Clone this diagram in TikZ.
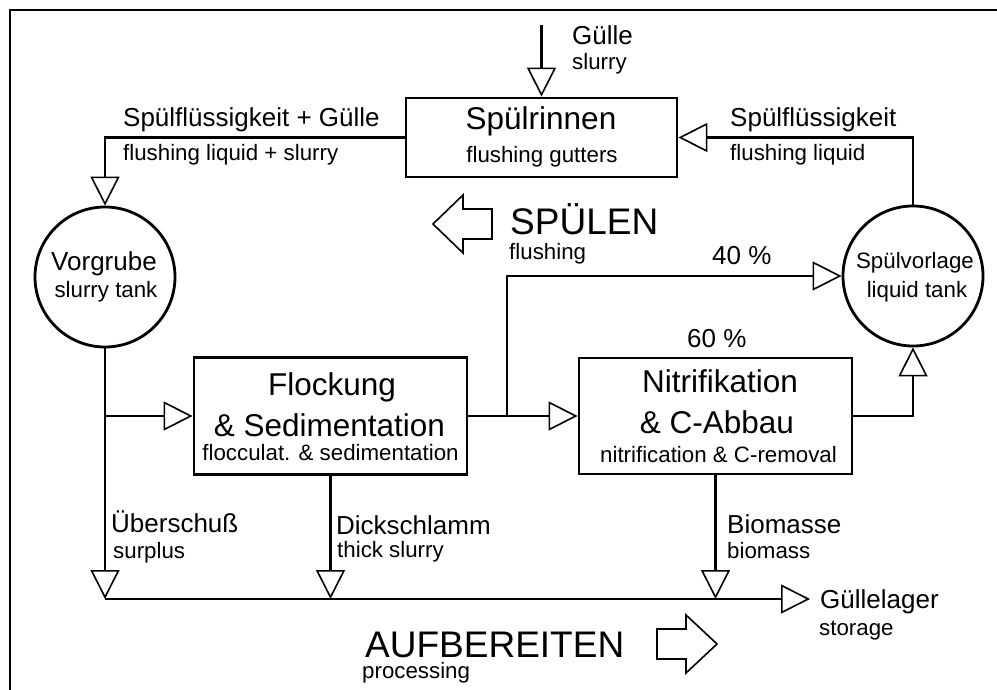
\documentclass[tikz,border=0pt]{standalone}
\usepackage{fontspec}
\setmainfont{Liberation Sans}
\usetikzlibrary{arrows.meta}
\newcommand{\deu}{\fontsize{26}{28}\selectfont}
\newcommand{\eng}{\fontsize{22.3}{25}\selectfont}
\newcommand{\ttl}{\fontsize{31.5}{34}\selectfont}
\newcommand{\hugetxt}{\fontsize{37}{40}\selectfont}
\begin{document}
\begin{tikzpicture}[x=1pt,y=-1pt,
  box/.style={draw,line width=2.8pt,inner sep=0pt},
  tank/.style={draw,circle,line width=2.8pt,minimum size=140pt,inner sep=0pt},
  flow/.style={line width=2.8pt,-{Triangle[open,length=29pt,width=29pt,line width=1.6pt]}},
  txt/.style={inner sep=0pt,anchor=base west},
  ctxt/.style={inner sep=0pt,anchor=base},
  blockarrow/.style={draw,line width=1.6pt,line join=miter}]
  \useasboundingbox (0,0) rectangle (997,690);
  \draw[line width=2pt] (997,10) -- (10,10) -- (10,690);

  \node[box,minimum width=271pt,minimum height=79pt] (rinnen) at (541.5,137.5) {};
  \node[ctxt] (rinnenT) at (541,130) {\ttl Spülrinnen};
  \node[ctxt] (rinnenE) at (542,163) {\eng flushing gutters};

  \node[tank] (vorgrube) at (105,277) {};
  \node[ctxt] (vorgrubeT) at (104,270) {\deu Vorgrube};
  \node[ctxt] (vorgrubeE) at (106,297) {\eng slurry tank};

  \node[tank] (vorlage) at (913,276) {};
  \node[ctxt] (vorlageT) at (915,269) {\eng Spülvorlage};
  \node[ctxt] (vorlageE) at (917,297) {\eng liquid tank};

  \node[box,minimum width=273pt,minimum height=117pt] (flock) at (330.5,416) {};
  \node[ctxt] (flockT) at (332,395) {\ttl Flockung};
  \node[ctxt] (flockS) at (329.5,436) {\ttl \& Sedimentation};
  \node[ctxt] (flockE) at (330.5,460) {\eng flocculat. \& sedimentation};

  \node[box,minimum width=273pt,minimum height=116pt] (nitri) at (715.5,416) {};
  \node[ctxt] (nitriT) at (720,392) {\ttl Nitrifikation};
  \node[ctxt] (nitriS) at (717,433) {\ttl \& C-Abbau};
  \node[ctxt] (nitriE) at (718.5,462) {\eng nitrification \& C-removal};

  \coordinate (gin) at (541.5,25);
  \coordinate (sammel) at (105,599);
  \coordinate (split) at (507,416);
  \coordinate (lager) at (810,599);

  \draw[flow] (gin) -- (rinnen.north);
  \draw[flow] (rinnen.west) -| (vorgrube.north);
  \draw[flow] (vorlage.north) |- (rinnen.east);
  \draw[flow] (vorgrube.south) -- (sammel);
  \draw[flow] (vorgrube.south |- flock.west) -- (flock.west);
  \draw[flow] (flock.east) -- (nitri.west);
  \draw[flow] (split) |- (vorlage.west);
  \draw[flow] (nitri.east) -| (vorlage.south);
  \draw[flow] (flock.south) -- (flock.south |- sammel);
  \draw[flow] (nitri.south) -- (nitri.south |- sammel);
  \draw[flow] (sammel) -- (lager);

  \node[txt] (guelle) at (572,45) {\deu Gülle};
  \node[txt] (guelleE) at (572,70) {\eng slurry};
  \node[txt] (mixT) at (123,127) {\deu Spülflüssigkeit + Gülle};
  \node[txt] (mixE) at (123,161) {\eng flushing liquid + slurry};
  \node[txt] (liqT) at (730,127) {\deu Spülflüssigkeit};
  \node[txt] (liqE) at (730,161) {\eng flushing liquid};
  \node[txt] (p40) at (712,265) {\deu 40 \%};
  \node[txt] (p60) at (687,347) {\deu 60 \%};
  \node[txt] (uebT) at (111,532) {\deu Überschuß};
  \node[txt] (uebE) at (113,558) {\eng surplus};
  \node[txt] (dickT) at (336,534) {\deu Dickschlamm};
  \node[txt] (dickE) at (337,557) {\eng thick slurry};
  \node[txt] (bioT) at (727,533) {\deu Biomasse};
  \node[txt] (bioE) at (727,558) {\eng biomass};
  \node[txt] (lagerT) at (820,608) {\deu Güllelager};
  \node[txt] (lagerE) at (819,635) {\eng storage};

  \node[txt] (spuelen) at (510,234) {\hugetxt SPÜLEN};
  \node[txt] (spuelenE) at (509,259) {\eng flushing};
  \draw[blockarrow] (433,224) -- (463,195) -- (463,209) -- (492,209)
    -- (492,239) -- (463,239) -- (463,253) -- cycle;

  \node[txt] (aufb) at (365,657) {\hugetxt AUFBEREITEN};
  \node[txt] (aufbE) at (362,678) {\eng processing};
  \draw[blockarrow] (717,644) -- (686,615) -- (686,629) -- (657,629)
    -- (657,659) -- (686,659) -- (686,673) -- cycle;
\end{tikzpicture}
\end{document}
